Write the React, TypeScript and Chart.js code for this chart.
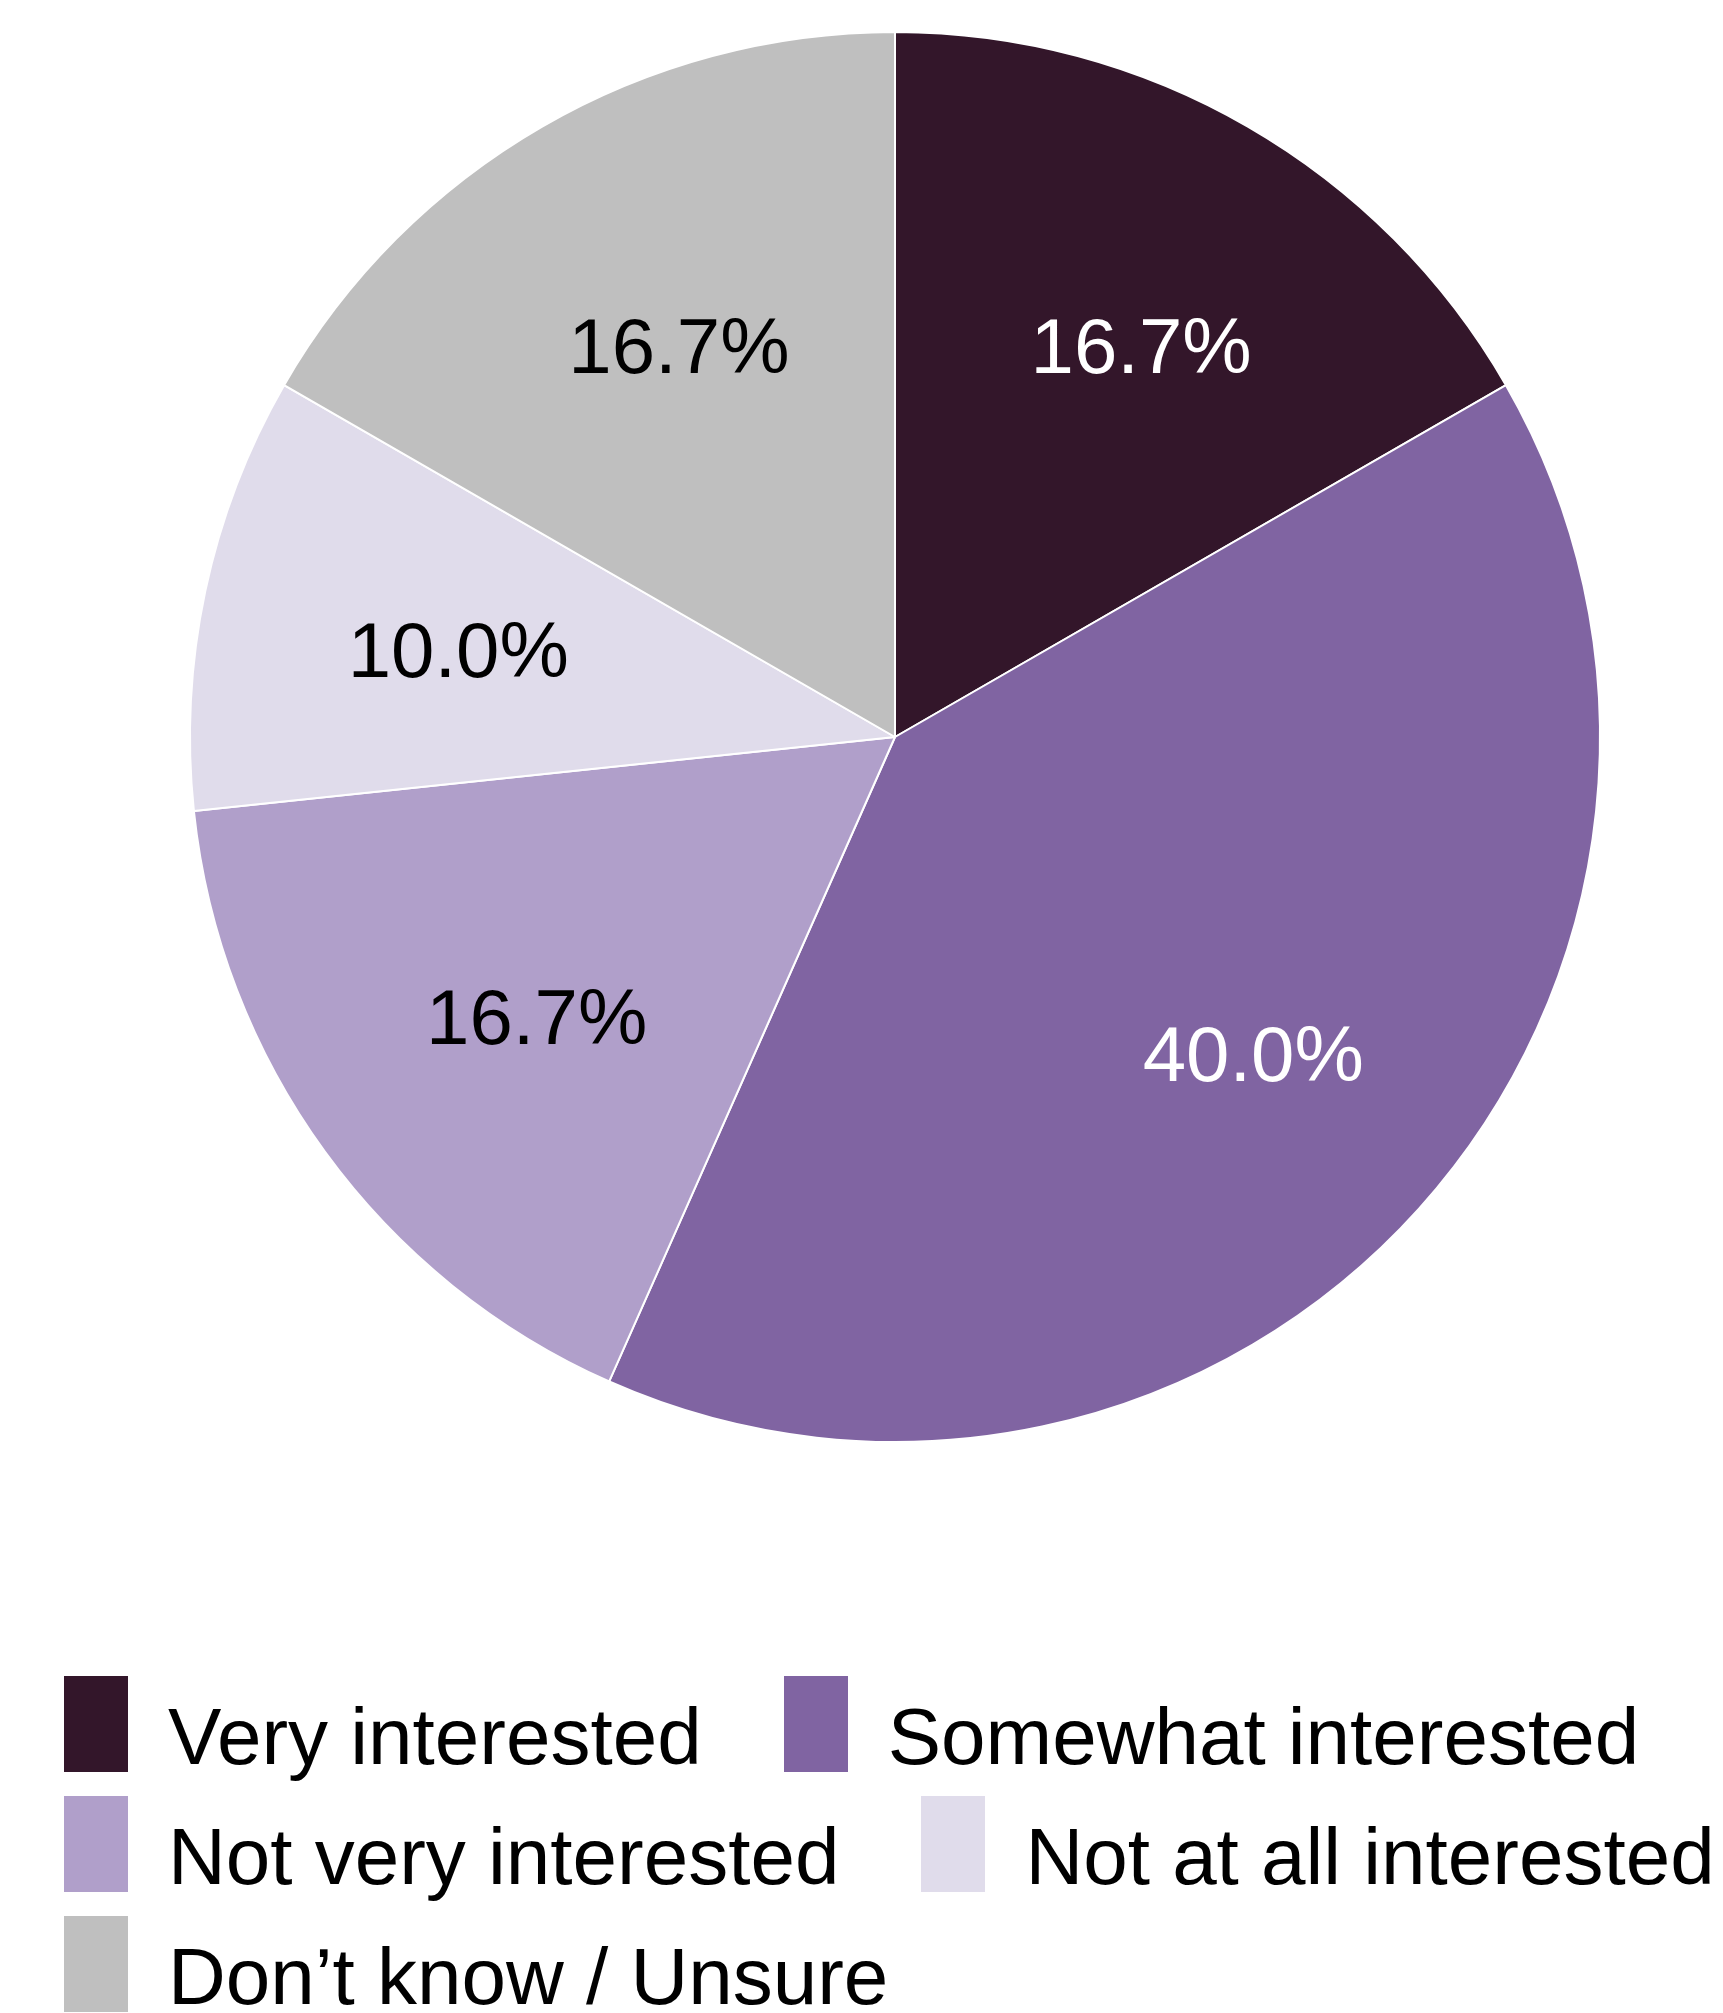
import React, { useEffect, useRef } from "react";
import { Chart, registerables } from "chart.js";

Chart.register(...registerables);

const categories = [
  "Very interested",
  "Somewhat interested",
  "Not very interested",
  "Not at all interested",
  "Don\u2019t know / Unsure",
];
const shares = [16.7, 40.0, 16.7, 10.0, 16.7];
const sliceColors = ["#33162A", "#8064A2", "#B09FCA", "#E0DCEB", "#BFBFBF"];
const labelColors = ["#FFFFFF", "#FFFFFF", "#000000", "#000000", "#000000"];
const legendRows = [
  [0, 1],
  [2, 3],
  [4],
];

const FONT = "'Liberation Sans', Arial, sans-serif";

const sliceLabelPlugin = {
  id: "sliceLabels",
  afterDatasetsDraw(chart: any) {
    const ctx = chart.ctx;
    const meta = chart.getDatasetMeta(0);
    ctx.save();
    ctx.font = `78px ${FONT}`;
    ctx.textAlign = "center";
    ctx.textBaseline = "middle";
    meta.data.forEach((arc: any, i: number) => {
      const p = arc.getProps(["x", "y", "startAngle", "endAngle", "outerRadius"], true);
      const mid = (p.startAngle + p.endAngle) / 2;
      const r = p.outerRadius * 0.655;
      const x = p.x + Math.cos(mid) * r + 15;
      const y = p.y + Math.sin(mid) * r + 14;
      ctx.fillStyle = labelColors[i];
      ctx.fillText(shares[i].toFixed(1) + "%", x, y);
    });
    ctx.restore();
  },
};

export default function App() {
  const canvasRef = useRef<HTMLCanvasElement | null>(null);

  useEffect(() => {
    if (!canvasRef.current) return;
    const chart = new Chart(canvasRef.current, {
      type: "pie",
      data: {
        labels: categories,
        datasets: [
          {
            data: shares,
            backgroundColor: sliceColors,
            borderColor: "#FFFFFF",
            borderWidth: 2,
          },
        ],
      },
      options: {
        animation: false,
        responsive: true,
        maintainAspectRatio: false,
        layout: { padding: { left: 67, right: 0, top: 23, bottom: 15 } },
        plugins: {
          legend: { display: false },
          tooltip: { enabled: false },
        },
      },
      plugins: [sliceLabelPlugin],
    });
    return () => chart.destroy();
  }, []);

  return (
    <div style={{ width: "100%", fontFamily: FONT }}>
      <div style={{ position: "relative", width: "100%", height: 1450 }}>
        <canvas ref={canvasRef} />
      </div>
      <div style={{ marginTop: 218, paddingLeft: 56 }}>
        {legendRows.map((row, ri) => (
          <div
            key={ri}
            style={{
              display: "flex",
              flexWrap: "nowrap",
              whiteSpace: "nowrap",
              height: 96,
              marginBottom: 24,
            }}
          >
            {row.map((idx, k) => (
              <div
                key={idx}
                style={{
                  display: "flex",
                  alignItems: "flex-start",
                  flex: "0 0 auto",
                  marginLeft: k === 0 ? 0 : 82,
                }}
              >
                <div
                  style={{
                    width: 64,
                    height: 96,
                    background: sliceColors[idx],
                    flex: "0 0 auto",
                  }}
                />
                <span
                  style={{
                    marginLeft: 40,
                    fontSize: 80,
                    lineHeight: "96px",
                    position: "relative",
                    top: 13,
                    color: "#000",
                  }}
                >
                  {categories[idx]}
                </span>
              </div>
            ))}
          </div>
        ))}
      </div>
    </div>
  );
}
